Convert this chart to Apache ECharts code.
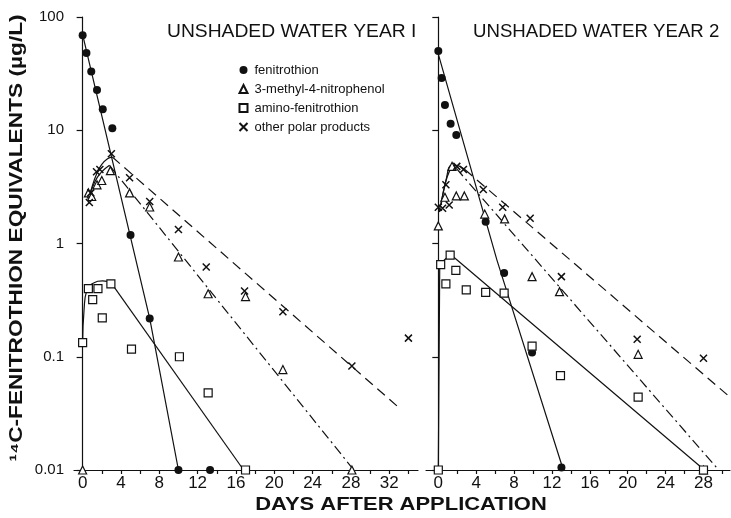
<!DOCTYPE html>
<html>
<head>
<meta charset="utf-8">
<script src="https://cdn.jsdelivr.net/npm/echarts@6/dist/echarts.min.js"></script>
<style>
html,body{margin:0;padding:0;background:#fff;}
#chart{width:731px;height:518px;}
</style>
</head>
<body>
<div id="chart"></div>
<script>
// ---------- DATA ----------
const panelTitles = ['UNSHADED WATER YEAR I', 'UNSHADED WATER YEAR 2'];
const seriesNames = ['fenitrothion', '3-methyl-4-nitrophenol', 'amino-fenitrothion', 'other polar products'];
const yTickLabels = ['0.01', '0.1', '1', '10', '100'];
const xLabels1 = [0, 4, 8, 12, 16, 20, 24, 28, 32];
const xTicks1 = [0, 2, 4, 6, 8, 10, 12, 14, 16, 18, 20, 22, 24, 26, 28, 30, 32, 34];
const xLabels2 = [0, 4, 8, 12, 16, 20, 24, 28];
const xTicks2 = [0, 2, 4, 6, 8, 10, 12, 14, 16, 18, 20, 22, 24, 26, 28, 30];

// Year 1 measured points
const y1FenDays = [0, 0.4, 0.9, 1.5, 2.1, 3.1, 5.0, 7.0, 10.0, 13.3];
const y1FenVals = [69, 48, 33, 22.7, 15.3, 10.4, 1.19, 0.218, 0.01, 0.01];
const y1MnpDays = [0, 0.6, 0.95, 1.5, 2.0, 2.9, 4.9, 7.0, 10.0, 13.1, 17.0, 20.9, 28.1];
const y1MnpVals = [0.01, 2.8, 2.6, 3.3, 3.6, 4.4, 2.8, 2.1, 0.76, 0.36, 0.34, 0.077, 0.01];
const y1AmiDays = [0, 0.6, 1.05, 1.6, 2.05, 2.95, 5.1, 10.1, 13.1, 17.0];
const y1AmiVals = [0.133, 0.40, 0.32, 0.40, 0.22, 0.44, 0.117, 0.10, 0.048, 0.01];
const y1PolDays = [0.7, 0.85, 1.45, 1.8, 3.0, 4.9, 7.0, 10.0, 12.9, 16.9, 20.9, 28.1, 34.0];
const y1PolVals = [2.3, 2.8, 4.3, 4.5, 6.2, 3.8, 2.35, 1.33, 0.62, 0.38, 0.25, 0.083, 0.146];

// Year 2 measured points
const y2FenDays = [0, 0.35, 0.7, 1.3, 1.9, 5.0, 6.95, 9.9, 13.0];
const y2FenVals = [50, 29, 16.7, 11.4, 9.1, 1.56, 0.55, 0.109, 0.0105];
const y2MnpDays = [0, 0.7, 1.45, 1.9, 2.75, 4.9, 7.0, 9.9, 12.8, 21.1, 28.0];
const y2MnpVals = [1.43, 2.56, 4.8, 2.63, 2.63, 1.82, 1.65, 0.51, 0.376, 0.105, 0.01];
const y2AmiDays = [0, 0.25, 0.8, 1.25, 1.85, 2.95, 5.0, 6.95, 9.9, 12.9, 21.1, 28.0];
const y2AmiVals = [0.01, 0.65, 0.44, 0.79, 0.58, 0.39, 0.37, 0.365, 0.124, 0.068, 0.044, 0.01];
const y2PolDays = [0, 0.45, 0.8, 1.15, 1.95, 2.65, 4.75, 6.8, 9.7, 13.0, 21.0, 28.0];
const y2PolVals = [2.09, 2.05, 3.3, 2.19, 4.8, 4.5, 3.0, 2.09, 1.67, 0.51, 0.143, 0.097];

// Year 1 fitted curves / lines
const y1FenFitDays = [0, 7.0, 10.0];
const y1FenFitVals = [70, 0.218, 0.01];
const y1MnpRiseDays = [0.5, 1.0, 1.5, 2.0, 2.8];
const y1MnpRiseVals = [2.5, 3.1, 3.8, 4.3, 4.9];
const y1MnpFitDays = [2.8, 28.3];
const y1MnpFitVals = [4.9, 0.01];
const y1AmiRiseDays = [0, 0.15, 0.45, 1.1, 2.1, 3.0];
const y1AmiRiseVals = [0.133, 0.26, 0.39, 0.445, 0.467, 0.446];
const y1AmiFitDays = [3.0, 16.8];
const y1AmiFitVals = [0.446, 0.01];
const y1PolRiseDays = [0.6, 1.0, 1.5, 2.0, 2.6, 3.1];
const y1PolRiseVals = [2.3, 3.2, 4.2, 5.0, 5.6, 5.8];
const y1PolFitDays = [3.1, 33.1];
const y1PolFitVals = [5.8, 0.035];

// Year 2 fitted curves / lines
const y2FenFitDays = [-0.15, 6.2, 13.2];
const y2FenFitVals = [52, 0.71, 0.01];
const y2MnpRiseDays = [0.3, 0.8, 1.4, 1.9];
const y2MnpRiseVals = [2.2, 3.6, 4.9, 4.6];
const y2MnpFitDays = [1.9, 29.6];
const y2MnpFitVals = [4.6, 0.01];
const y2AmiFitDays = [0, 0.15, 1.3, 28.1];
const y2AmiFitVals = [0.01, 0.66, 0.8, 0.01];
const y2PolRiseDays = [0.1, 0.6, 1.2, 1.8, 2.8];
const y2PolRiseVals = [1.9, 3.0, 4.4, 4.9, 4.5];
const y2PolFitDays = [2.8, 30.8];
const y2PolFitVals = [4.5, 0.044];

// ---------- BUILD ----------
const zip = (xs, ys) => xs.map((x, i) => [x, ys[i]]);
const FONT = 'Liberation Sans';
const NARROW = '"Liberation Sans Narrow", "Liberation Sans"';
const INK = '#111';
const crossPath = 'path://M0,0L10,10M10,0L0,10';

const markerStyles = [
  { symbol: 'circle', symbolSize: 8, itemStyle: { color: INK, borderColor: INK, borderWidth: 0, opacity: 1 } },
  { symbol: 'triangle', symbolSize: 8, itemStyle: { color: '#fff', borderColor: INK, borderWidth: 1.2, opacity: 1 } },
  { symbol: 'rect', symbolSize: 8, itemStyle: { color: '#fff', borderColor: INK, borderWidth: 1.2, opacity: 1 } },
  { symbol: crossPath, symbolSize: 7, itemStyle: { color: 'none', borderColor: INK, borderWidth: 1.5, opacity: 1 } }
];

function scatter(nameIdx, panel, xs, ys) {
  const m = markerStyles[nameIdx];
  return {
    type: 'scatter', name: seriesNames[nameIdx], xAxisIndex: panel, yAxisIndex: panel,
    data: zip(xs, ys), symbol: m.symbol, symbolSize: m.symbolSize,
    itemStyle: m.itemStyle, clip: false, z: 5, silent: true
  };
}
function line(panel, xs, ys, type, smooth) {
  return {
    type: 'line', name: 'fit', xAxisIndex: panel, yAxisIndex: panel,
    data: zip(xs, ys), showSymbol: false, smooth: smooth || false, clip: false,
    lineStyle: { color: INK, width: 1.2, type: type }, z: 3, silent: true
  };
}
const DASH = [10, 6];
const DASHDOT = [10, 4, 2, 4];

const series = [
  line(0, y1FenFitDays, y1FenFitVals, 'solid'),
  line(0, y1MnpRiseDays, y1MnpRiseVals, 'solid', 0.5),
  line(0, y1MnpFitDays, y1MnpFitVals, DASHDOT),
  line(0, y1AmiRiseDays, y1AmiRiseVals, 'solid', 0.5),
  line(0, y1AmiFitDays, y1AmiFitVals, 'solid'),
  line(0, y1PolRiseDays, y1PolRiseVals, 'solid', 0.5),
  line(0, y1PolFitDays, y1PolFitVals, DASH),
  line(1, y2FenFitDays, y2FenFitVals, 'solid'),
  line(1, y2MnpRiseDays, y2MnpRiseVals, 'solid', 0.5),
  line(1, y2MnpFitDays, y2MnpFitVals, DASHDOT),
  line(1, y2AmiFitDays, y2AmiFitVals, 'solid'),
  line(1, y2PolRiseDays, y2PolRiseVals, 'solid', 0.5),
  line(1, y2PolFitDays, y2PolFitVals, DASH),
  scatter(0, 0, y1FenDays, y1FenVals),
  scatter(1, 0, y1MnpDays, y1MnpVals),
  scatter(2, 0, y1AmiDays, y1AmiVals),
  scatter(3, 0, y1PolDays, y1PolVals),
  scatter(0, 1, y2FenDays, y2FenVals),
  scatter(1, 1, y2MnpDays, y2MnpVals),
  scatter(2, 1, y2AmiDays, y2AmiVals),
  scatter(3, 1, y2PolDays, y2PolVals)
];

function xAxis(grid, min, max, labels, ticks) {
  return {
    type: 'value', gridIndex: grid, min: min, max: max,
    axisLine: { lineStyle: { color: INK, width: 1.2 } },
    axisTick: { show: true, inside: false, length: 4, customValues: ticks, lineStyle: { color: INK, width: 1.2 } },
    axisLabel: { customValues: labels, color: INK, fontFamily: NARROW, fontSize: 17, margin: 5 },
    splitLine: { show: false }
  };
}
function yAxis(grid, showLabels) {
  return {
    type: 'log', logBase: 10, gridIndex: grid, min: 0.01, max: 100,
    axisLine: { lineStyle: { color: INK, width: 1.2 } },
    axisTick: { show: true, inside: false, length: 6, lineStyle: { color: INK, width: 1.2 } },
    axisLabel: {
      show: showLabels, color: INK, fontFamily: NARROW, fontSize: 15, margin: 10,
      formatter: v => yTickLabels[Math.round(Math.log10(v)) + 2]
    },
    splitLine: { show: false }
  };
}

const chart = echarts.init(document.getElementById('chart'), null, { renderer: 'canvas' });
chart.setOption({
  backgroundColor: '#fff',
  animation: false,
  grid: [
    { left: 74, top: 17, width: 344, height: 453 },
    { left: 426, top: 17, width: 304, height: 453 }
  ],
  xAxis: [
    xAxis(0, -0.9, 35, xLabels1, xTicks1),
    xAxis(1, -1.3, 30.8, xLabels2, xTicks2)
  ],
  yAxis: [yAxis(0, true), yAxis(1, false)],
  legend: {
    data: seriesNames, orient: 'vertical', left: 237, top: 63, padding: 0,
    itemWidth: 8, itemHeight: 8, itemGap: 5, selectedMode: false,
    textStyle: { fontFamily: FONT, fontSize: 13, color: INK, lineHeight: 14, padding: [0, 0, 0, 2] }
  },
  graphic: [
    { type: 'text', x: 167, y: 32, scaleX: 1.07, z: 10,
      style: { text: panelTitles[0], font: '18px "Liberation Sans"', fill: INK, align: 'left', verticalAlign: 'middle' } },
    { type: 'text', x: 473, y: 32, scaleX: 1.035, z: 10,
      style: { text: panelTitles[1], font: '18px "Liberation Sans"', fill: INK, align: 'left', verticalAlign: 'middle' } },
    { type: 'text', x: 17, y: 238, rotation: Math.PI / 2, scaleX: 1.26, z: 10,
      style: { text: '\u00B9\u2074C-FENITROTHION EQUIVALENTS (\u00B5g/L)', font: 'bold 18px "Liberation Sans"',
        fill: INK, align: 'center', verticalAlign: 'middle' } },
    { type: 'text', x: 401, y: 505, scaleX: 1.22, z: 10,
      style: { text: 'DAYS AFTER APPLICATION', font: 'bold 18px "Liberation Sans"',
        fill: INK, align: 'center', verticalAlign: 'middle' } }
  ],
  series: series
});
</script>
</body>
</html>
